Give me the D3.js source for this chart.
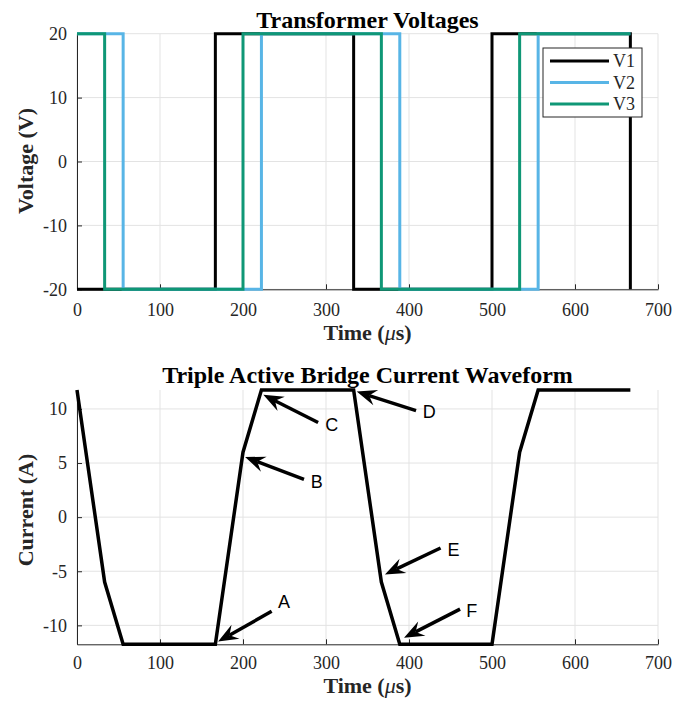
<!DOCTYPE html>
<html>
<head>
    <title>TAB waveforms</title>
    <meta http-equiv="content-type" content="text/html; charset=UTF-8">
    <script type="text/javascript" src="https://cdnjs.cloudflare.com/ajax/libs/d3/7.8.5/d3.min.js"></script>
</head>
<body style="margin:0; background:#fff;">

<style>
    text {
        font-family: "Liberation Serif", "Times New Roman", serif;
        fill: #262626;
    }
    .tick text {
        font-size: 18px;
        font-family: "Liberation Serif", "Times New Roman", serif;
        fill: #262626;
    }
    .domain, .tick line {
        stroke: #262626;
    }
    .grid line {
        stroke: #e3e3e3;
        stroke-width: 1px;
    }
    .title {
        font-size: 24px;
        font-weight: bold;
        fill: #000;
    }
    .label {
        font-size: 22px;
        font-weight: bold;
        fill: #262626;
    }
    .note {
        font-family: "Liberation Sans", Arial, sans-serif;
        font-size: 18px;
        fill: #000;
    }
</style>

<script type="text/javascript">
    // time axis (us)
    var timeTicks = [0, 100, 200, 300, 400, 500, 600, 700];

    // transformer voltages: switching instants and the level held after each
    var v1Times = [0, 166.7, 333.3, 500, 666.7];
    var v1Levels = [-20, 20, -20, 20, -20];
    var v2Times = [0, 55.6, 222.2, 388.9, 555.6, 666.7];
    var v2Levels = [20, -20, 20, -20, 20, 20];
    var v3Times = [0, 33.3, 200, 366.7, 533.3, 666.7];
    var v3Levels = [20, -20, 20, -20, 20, 20];
    var voltageTicks = [-20, -10, 0, 10, 20];
    var seriesNames = ["V1", "V2", "V3"];
    var seriesColors = ["#000000", "#58b5e6", "#0f9776"];

    // bridge current
    var iTimes = [0, 33.3, 55.6, 166.7, 200, 222.2, 333.3, 366.7, 388.9, 500, 533.3, 555.6, 666.7];
    var iValues = [11.75, -6, -11.75, -11.75, 6, 11.75, 11.75, -6, -11.75, -11.75, 6, 11.75, 11.75];
    var currentTicks = [-10, -5, 0, 5, 10];

    // arrow annotations (data units)
    var noteLabels = ["A", "B", "C", "D", "E", "F"];
    var noteHeadT = [170, 202.5, 224.5, 337, 371, 394];
    var noteHeadI = [-11.5, 5.55, 11.3, 11.6, -5.3, -11.15];
    var noteTailT = [234.5, 273.5, 290.5, 408.5, 438, 461.5];
    var noteTailI = [-8.7, 3.5, 8.75, 9.85, -2.85, -8.5];
    var noteTextT = [249.5, 289, 307, 424.5, 453.5, 475.5];
    var noteTextI = [-7.8, 3.3, 8.55, 9.8, -3, -8.6];

    var W = 673, H = 702;
    var svg = d3.select("body").append("svg")
        .attr("width", W)
        .attr("height", H);

    var left = 77, right = 658;

    var x = d3.scaleLinear().domain([0, 700]).range([left, right]);
    var plain = function (d) { return String(d); };  // keep ASCII hyphen like the original

    function drawFrame(g, y, yTicks, y0, y1, pad) {
        g.append("g").attr("class", "grid")
            .selectAll("line").data(timeTicks).enter().append("line")
            .attr("x1", function (d) { return x(d); })
            .attr("x2", function (d) { return x(d); })
            .attr("y1", y0).attr("y2", y1);
        g.append("g").attr("class", "grid")
            .selectAll("line").data(yTicks).enter().append("line")
            .attr("x1", left).attr("x2", right)
            .attr("y1", function (d) { return y(d); })
            .attr("y2", function (d) { return y(d); });

        var xa = g.append("g")
            .attr("transform", "translate(0," + y1 + ")")
            .call(d3.axisBottom(x).tickValues(timeTicks).tickFormat(plain)
                .tickSizeInner(-5).tickSizeOuter(0).tickPadding(pad));
        xa.selectAll(".tick text").attr("dy", "0.35em");

        g.append("g")
            .attr("transform", "translate(" + left + ",0)")
            .call(d3.axisLeft(y).tickValues(yTicks).tickFormat(plain)
                .tickSizeInner(-5).tickSizeOuter(0).tickPadding(10));
    }

    // ---- top panel: transformer voltages
    var yV = d3.scaleLinear().domain([-20, 20]).range([289.3, 33.7]);
    var topG = svg.append("g");
    drawFrame(topG, yV, voltageTicks, 33.7, 289.3, 20);

    var stepLine = d3.line()
        .x(function (d) { return x(d[0]); })
        .y(function (d) { return yV(d[1]); })
        .curve(d3.curveStepAfter);

    var vSeries = [
        d3.zip(v1Times, v1Levels),
        d3.zip(v2Times, v2Levels),
        d3.zip(v3Times, v3Levels)
    ];

    topG.selectAll("path.v").data(vSeries).enter().append("path")
        .attr("class", "v")
        .attr("d", stepLine)
        .attr("fill", "none")
        .attr("stroke", function (d, i) { return seriesColors[i]; })
        .attr("stroke-width", 3)
        .attr("stroke-linejoin", "miter");

    topG.append("text").attr("class", "title")
        .attr("x", (left + right) / 2).attr("y", 28)
        .attr("text-anchor", "middle")
        .text("Transformer Voltages");

    var xl1 = topG.append("text").attr("class", "label")
        .attr("x", (left + right) / 2).attr("y", 340)
        .attr("text-anchor", "middle");
    xl1.append("tspan").text("Time (");
    xl1.append("tspan").attr("font-style", "italic").attr("font-weight", "normal").text("\u03bc");
    xl1.append("tspan").text("s)");

    topG.append("text").attr("class", "label")
        .attr("transform", "translate(33,161) rotate(-90)")
        .attr("text-anchor", "middle")
        .text("Voltage (V)");

    // legend
    var leg = topG.append("g").attr("transform", "translate(543,48)");
    leg.append("rect")
        .attr("width", 99).attr("height", 69)
        .attr("fill", "#fff").attr("stroke", "#262626").attr("stroke-width", 1);
    var items = leg.selectAll("g.item").data(seriesNames).enter().append("g")
        .attr("class", "item")
        .attr("transform", function (d, i) { return "translate(0," + (13 + i * 21.5) + ")"; });
    items.append("line")
        .attr("x1", 7).attr("x2", 66)
        .attr("stroke", function (d, i) { return seriesColors[i]; })
        .attr("stroke-width", 3);
    items.append("text")
        .attr("x", 70).attr("dy", "0.35em")
        .style("font-size", "18px")
        .text(function (d) { return d; });

    // ---- bottom panel: bridge current
    var iExt = d3.extent(iValues);
    var yI = d3.scaleLinear().domain(iExt).range([644.3, 390]);
    var botG = svg.append("g");
    drawFrame(botG, yI, currentTicks, 390, 644.3, 18);

    var curLine = d3.line()
        .x(function (d) { return x(d[0]); })
        .y(function (d) { return yI(d[1]); });

    botG.append("path")
        .datum(d3.zip(iTimes, iValues))
        .attr("d", curLine)
        .attr("fill", "none")
        .attr("stroke", "#000")
        .attr("stroke-width", 3.5)
        .attr("stroke-linejoin", "miter");

    botG.append("text").attr("class", "title")
        .attr("x", (left + right) / 2).attr("y", 383)
        .attr("text-anchor", "middle")
        .text("Triple Active Bridge Current Waveform");

    var xl2 = botG.append("text").attr("class", "label")
        .attr("x", (left + right) / 2).attr("y", 693)
        .attr("text-anchor", "middle");
    xl2.append("tspan").text("Time (");
    xl2.append("tspan").attr("font-style", "italic").attr("font-weight", "normal").text("\u03bc");
    xl2.append("tspan").text("s)");

    botG.append("text").attr("class", "label")
        .attr("transform", "translate(33,510) rotate(-90)")
        .attr("text-anchor", "middle")
        .text("Current (A)");

    // arrows
    var notes = noteLabels.map(function (lab, i) {
        return {
            lab: lab,
            hx: x(noteHeadT[i]), hy: yI(noteHeadI[i]),
            tx: x(noteTailT[i]), ty: yI(noteTailI[i]),
            lx: x(noteTextT[i]), ly: yI(noteTextI[i])
        };
    });

    var headLen = 20, headW = 16, notch = 13;
    var ng = botG.selectAll("g.note-g").data(notes).enter().append("g").attr("class", "note-g");
    ng.append("line")
        .attr("x1", function (d) { return d.tx; })
        .attr("y1", function (d) { return d.ty; })
        .attr("x2", function (d) {
            var a = Math.atan2(d.hy - d.ty, d.hx - d.tx);
            return d.hx - Math.cos(a) * notch;
        })
        .attr("y2", function (d) {
            var a = Math.atan2(d.hy - d.ty, d.hx - d.tx);
            return d.hy - Math.sin(a) * notch;
        })
        .attr("stroke", "#000")
        .attr("stroke-width", 3.5);
    ng.append("path")
        .attr("d", function (d) {
            var a = Math.atan2(d.hy - d.ty, d.hx - d.tx);
            var ca = Math.cos(a), sa = Math.sin(a);
            var bx = d.hx - ca * headLen, by = d.hy - sa * headLen;
            var p1 = [bx - sa * headW / 2, by + ca * headW / 2];
            var p2 = [bx + sa * headW / 2, by - ca * headW / 2];
            var n = [d.hx - ca * notch, d.hy - sa * notch];
            return "M" + d.hx + "," + d.hy + "L" + p1 + "L" + n + "L" + p2 + "Z";
        })
        .attr("fill", "#000");
    ng.append("text")
        .attr("class", "note")
        .attr("x", function (d) { return d.lx; })
        .attr("y", function (d) { return d.ly; })
        .attr("text-anchor", "middle")
        .attr("dy", "0.36em")
        .text(function (d) { return d.lab; });
</script>
</body>
</html>
